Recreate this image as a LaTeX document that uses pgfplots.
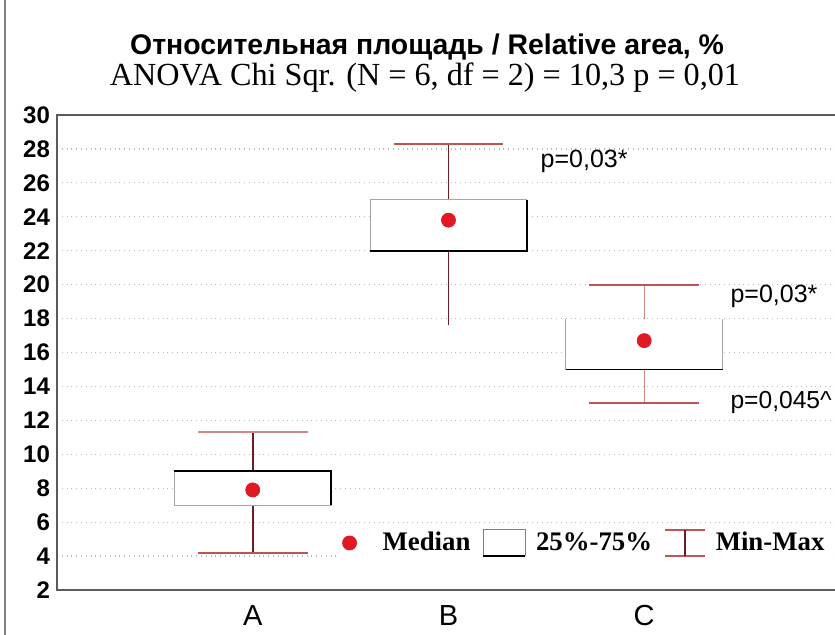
\documentclass[border=0pt]{standalone}
\usepackage{fontspec}
\setmainfont{Liberation Serif}
\setsansfont{Liberation Sans}
\usepackage{pgfplots}
\pgfplotsset{compat=1.18}
\definecolor{whisk}{RGB}{110,30,35}
\definecolor{capc}{RGB}{190,85,85}
\definecolor{medc}{RGB}{225,25,35}
\definecolor{framec}{RGB}{90,90,90}
\begin{document}
\begin{tikzpicture}
\begin{axis}[
 scale only axis, width=390pt, height=237.5pt,
 xmin=0, xmax=3.985, ymin=2, ymax=30,
 ytick={2,4,...,30}, xtick={1,2,3}, xticklabels={A,B,C},
 major tick length=0pt,
 ymajorgrids, major grid style={dotted, gray!55, line width=0.6pt},
 axis line style={framec, line width=0.8pt},
 /pgf/number format/assume math mode=true,
 yticklabel style={font=\sffamily\bfseries\fontsize{12}{12}\selectfont},
 xticklabel style={font=\sffamily\fontsize{14.5}{15}\selectfont, yshift=-4pt},
 legend columns=3,
 legend style={at={(rel axis cs:0.3574,0.099)}, anchor=west, draw=none, fill=white,
   font=\bfseries\fontsize{13.4}{13.4}\selectfont,
   /tikz/every even column/.append style={column sep=4pt},
   /tikz/every odd column/.append style={column sep=3pt}},
 clip=false,
]
% legend
\addlegendimage{legend image code/.code={\path[draw=none] (0pt,0pt) -- (15pt,0pt); \fill[medc] (3.5pt,0pt) circle (3.5pt);}}
\addlegendentry{Median}
\addlegendimage{legend image code/.code={\draw[gray, line width=0.5pt] (0pt,-6.5pt) rectangle (21pt,6.5pt); \draw[black,line width=0.8pt] (0pt,-6.5pt) -- (21pt,-6.5pt);}}
\addlegendentry{25\%-75\%}
\addlegendimage{legend image code/.code={\draw[capc, line width=0.8pt] (0pt,6.5pt)--(20pt,6.5pt) (0pt,-6.5pt)--(20pt,-6.5pt); \draw[whisk, line width=0.8pt] (10pt,6.5pt)--(10pt,-6.5pt);}}
\addlegendentry{Min-Max}

% whiskers
\addplot[whisk, line width=0.8pt, forget plot] coordinates {(1,4.2) (1,11.3)};
\addplot[capc, line width=0.9pt, forget plot] coordinates {(0.72,4.2) (1.28,4.2)};
\addplot[capc!70, line width=0.9pt, forget plot] coordinates {(0.72,11.3) (1.28,11.3)};
\addplot[whisk, line width=0.8pt, forget plot] coordinates {(2,17.6) (2,28.3)};
\addplot[capc, line width=0.9pt, forget plot] coordinates {(1.72,28.3) (2.28,28.3)};
\addplot[capc!70, line width=0.6pt, forget plot] coordinates {(3,13) (3,20)};
\addplot[capc, line width=0.9pt, forget plot] coordinates {(2.72,13) (3.28,13)};
\addplot[capc, line width=0.9pt, forget plot] coordinates {(2.72,20) (3.28,20)};

% boxes
\addplot[fill=white, draw=gray!70, line width=0.5pt, forget plot] coordinates {(0.6,7) (1.4,7) (1.4,9) (0.6,9)} -- cycle;
\addplot[black, line width=0.9pt, forget plot] coordinates {(0.6,9) (1.4,9) (1.4,7)};
\addplot[fill=white, draw=gray!70, line width=0.5pt, forget plot] coordinates {(1.6,22) (2.4,22) (2.4,25) (1.6,25)} -- cycle;
\addplot[black, line width=0.9pt, forget plot] coordinates {(1.6,22) (2.4,22) (2.4,25)};
\addplot[fill=white, draw=none, forget plot] coordinates {(2.6,15) (3.4,15) (3.4,18) (2.6,18)} -- cycle;
\addplot[gray!70, line width=0.5pt, forget plot] coordinates {(2.6,18) (2.6,15) (3.4,15) (3.4,18)};
\addplot[black, line width=0.9pt, forget plot] coordinates {(2.6,15) (3.4,15)};

% medians
\addplot[only marks, mark=*, mark size=3.5pt, color=medc, forget plot] coordinates {(1,7.9) (2,23.8) (3,16.7)};

% annotations
\node[anchor=west, inner sep=0pt, font=\sffamily\fontsize{12.5}{13}\selectfont] at (axis cs:2.469,27.24) {p=0,03*};
\node[anchor=west, inner sep=0pt, font=\sffamily\fontsize{12.5}{13}\selectfont] at (axis cs:3.439,19.33) {p=0,03*};
\node[anchor=west, inner sep=0pt, font=\sffamily\fontsize{12.3}{13}\selectfont] at (axis cs:3.439,13.08) {p=0,045\textasciicircum};

% titles
\node[font=\sffamily\bfseries\fontsize{14.2}{15}\selectfont] at (rel axis cs:0.4744,1.1432) {Относительная площадь / Relative area, \%};
\node[font=\fontsize{16.1}{17}\selectfont] at (rel axis cs:0.4718,1.0779) {ANOVA Chi Sqr. (N = 6, df = 2) = 10,3 p = 0,01};

% outer frame line
\draw[gray, line width=0.8pt] (rel axis cs:-0.0667,-0.0947) -- (rel axis cs:-0.0667,1.242);
\end{axis}
\pgfresetboundingbox
\path[use as bounding box] (current axis.south west) ++(-28.5pt,-22.5pt) rectangle ++(417.5pt,317.5pt);
\end{tikzpicture}
\end{document}
